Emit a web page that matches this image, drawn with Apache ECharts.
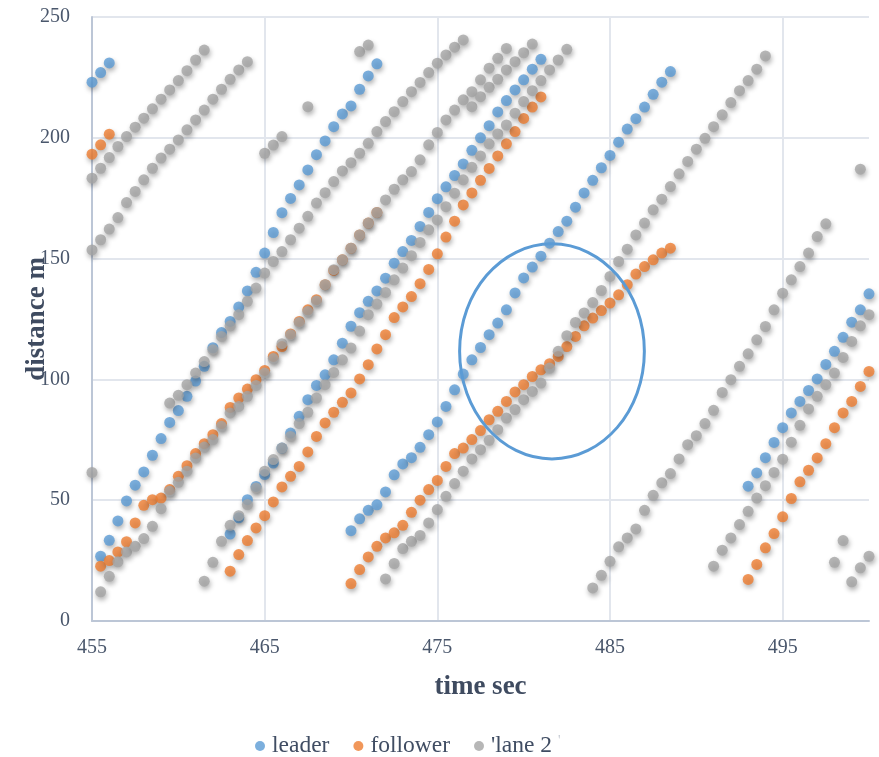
<!DOCTYPE html>
<html>
<head>
<meta charset="utf-8">
<title>Vehicle trajectories</title>
<script src="https://cdn.jsdelivr.net/npm/echarts@6/dist/echarts.min.js"></script>
<style>
  html, body { margin: 0; padding: 0; background: #fff; }
  #chart { width: 879px; height: 757px; }
</style>
</head>
<body>
<div id="chart"></div>
<script>
// ---- trajectories: [time s, distance m], one array per vehicle ----
const leaderCar1 = [[455,223],[455.5,227],[456,231]];
const leaderCar2 = [[455.5,26.8],[456,33.4],[456.5,41.4],[457,49.7],[457.5,56.2],[458,61.7],[458.5,68.6],[459,75.5],[459.5,82.2],[460,87.1],[460.5,93],[461,99.3],[461.5,105.4],[462,113.1],[462.5,119.4],[463,124],[463.5,130],[464,136.6],[464.5,144.3],[465,152.3],[465.5,160.8],[466,169],[466.5,174.9],[467,180.5],[467.5,186.7],[468,193],[468.5,198.7],[469,204.6],[469.5,209.9],[470,213.2],[470.5,220.1],[471,225.6],[471.5,230.6]];
const leaderCar3 = [[463,36],[463.5,42.7],[464,50.2],[464.5,55.7],[465,60.6],[465.5,65.4],[466,71.6],[466.5,77.8],[467,84.7],[467.5,91.6],[468,97.5],[468.5,101.9],[469,108.1],[469.5,115],[470,122],[470.5,127.6],[471,132.3],[471.5,136.6],[472,141.9],[472.5,148.1],[473,152.9],[473.5,157.5],[474,163.3],[474.5,169.1],[475,174.8],[475.5,179.7],[476,184.4],[476.5,189.2],[477,194.8],[477.5,200],[478,205],[478.5,210.7],[479,215.4],[479.5,219.8],[480,224],[480.5,228.4],[481,232.5]];
const leaderCar4 = [[470,37.4],[470.5,42.3],[471,45.8],[471.5,48.1],[472,53.4],[472.5,60.5],[473,65],[473.5,67.6],[474,71.9],[474.5,77.1],[475,82.4],[475.5,88.8],[476,95.7],[476.5,102.2],[477,108.1],[477.5,113.2],[478,118.5],[478.5,123.3],[479,128.8],[479.5,135.8],[480,142],[480.5,146.5],[481,151],[481.5,156.4],[482,161.2],[482.5,165.5],[483,171.3],[483.5,177.2],[484,182.4],[484.5,187.6],[485,192.7],[485.5,198.2],[486,203.6],[486.5,207.9],[487,212.7],[487.5,218],[488,223],[488.5,227.4]];
const leaderCar5 = [[493,55.8],[493.5,61.3],[494,67.6],[494.5,73.9],[495,80],[495.5,86.1],[496,90.9],[496.5,95.4],[497,100.2],[497.5,106.2],[498,111.6],[498.5,117.4],[499,123.7],[499.5,128.8],[500,135.4]];

const followerCar1 = [[455,193.2],[455.5,197.1],[456,201.5]];
const followerCar2 = [[455.5,22.7],[456,25],[456.5,28.6],[457,32.8],[457.5,40.6],[458,47.9],[458.5,50.2],[459,50.9],[459.5,54.4],[460,59.9],[460.5,64.3],[461,69.3],[461.5,73.4],[462,77.1],[462.5,81.7],[463,88.4],[463.5,92.3],[464,96],[464.5,99.9],[465,103.7],[465.5,109.5],[466,113.6],[466.5,118.8],[467,124],[467.5,128.8],[468,133],[468.5,139.2],[469,145.1],[469.5,149.5],[470,154.3],[470.5,159.8],[471,164.7],[471.5,169.1]];
const followerCar3 = [[463,20.6],[463.5,27.5],[464,33.3],[464.5,38.5],[465,43.6],[465.5,49.3],[466,55.5],[466.5,59.9],[467,64],[467.5,70],[468,76.4],[468.5,82],[469,86.4],[469.5,90.5],[470,94.4],[470.5,100.2],[471,106.1],[471.5,112.6],[472,118.5],[472.5,125.6],[473,130],[473.5,134.3],[474,139.6],[474.5,145.5],[475,152],[475.5,158.9],[476,165.5],[476.5,172.2],[477,177.2],[477.5,182.4],[478,187.3],[478.5,192.5],[479,197.5],[479.5,202.6],[480,208],[480.5,212.7],[481,216.9]];
const followerCar4 = [[470,15.5],[470.5,21.3],[471,26.5],[471.5,30.9],[472,34.4],[472.5,36.5],[473,39.6],[473.5,45],[474,50],[474.5,54.4],[475,58.2],[475.5,64],[476,69.3],[476.5,71.6],[477,75.1],[477.5,78.8],[478,83.3],[478.5,86.8],[479,90.9],[479.5,94.8],[480,97.8],[480.5,101.2],[481,104],[481.5,106.5],[482,109.5],[482.5,113.6],[483,117.8],[483.5,122.2],[484,125.4],[484.5,128.5],[485,131.6],[485.5,135],[486,139.2],[486.5,143.6],[487,146.7],[487.5,149.5],[488,152.3],[488.5,154.3]];
const followerCar5 = [[493,17.2],[493.5,23.4],[494,30.3],[494.5,36.2],[495,43.1],[495.5,50.7],[496,57.6],[496.5,62.4],[497,67.5],[497.5,73.4],[498,80],[498.5,86.1],[499,90.9],[499.5,97.1],[500,103.3]];

const lane2Car1 = [[455,183.3],[455.5,187.4],[456,191.8],[456.5,196.4],[457,200.5],[457.5,204.4],[458,208.1],[458.5,212],[459,216],[459.5,219.8],[460,223.7],[460.5,227.8],[461,232.2],[461.5,236.3]];
const lane2Car2 = [[455,153.6],[455.5,157.8],[456,162.2],[456.5,167],[457,173.2],[457.5,177.8],[458,182.6],[458.5,187.4],[459,191.6],[459.5,195.3],[460,199.1],[460.5,203.3],[461,207.4],[461.5,211.5],[462,216],[462.5,220.1],[463,224.2],[463.5,228.1],[464,231.5]];
const lane2Car3 = [[455,61.5]];
const lane2Car4 = [[455.5,12.1],[456,18.5],[456.5,24.5],[457,28.6],[457.5,30.9],[458,34.1],[458.5,39.2],[459,46.5],[459.5,53.7],[460,57.4],[460.5,62],[461,67.5],[461.5,72],[462,75.1],[462.5,80.6],[463,86.1],[463.5,88.8],[464,93],[464.5,97.5],[465,102.6],[465.5,108.6],[466,114.8],[466.5,118.5],[467,123.6],[467.5,128.1],[468,132.5],[468.5,139.2],[469,145.4],[469.5,149.5],[470,154.3],[470.5,159.8],[471,164.7],[471.5,169.1],[472,174.3],[472.5,178.7],[473,182.6],[473.5,186],[474,190.9],[474.5,197.1],[475,202.2],[475.5,207.4],[476,211.5],[476.5,215.7],[477,219.1],[477.5,224],[478,228.8],[478.5,232.9],[479,237]];
const lane2Car5 = [[459.5,90.2],[460,93.4],[460.5,97.8],[461,102.6],[461.5,107.4],[462,112.3],[462.5,117.8],[463,122.2],[463.5,126.8],[464,132.3],[464.5,137.8],[465,144],[465.5,148.8],[466,152.9],[466.5,157.8],[467,162.6],[467.5,167.5],[468,173],[468.5,177.3],[469,181.9],[469.5,186.3],[470,189.7],[470.5,193.6],[471,197.7],[471.5,202.6],[472,206.7],[472.5,210.8],[473,215],[473.5,219.1],[474,222.9],[474.5,227],[475,230.9],[475.5,234.3],[476,237.5],[476.5,240.5]];
const lane2Car6 = [[465,193.6],[465.5,197],[466,200.5]];
const lane2Car7 = [[467.5,212.9]];
const lane2Car8 = [[470.5,235.7],[471,238.4]];
const lane2Car9 = [[461.5,16.5],[462,24.3],[462.5,33],[463,39.6],[463.5,43.6],[464,48.2],[464.5,55.1],[465,62],[465.5,66.8],[466,71.6],[466.5,76.4],[467,81.7],[467.5,86.4],[468,92.3],[468.5,97.8],[469,102.9],[469.5,108.1],[470,113],[470.5,120],[471,126.8],[471.5,131.2],[472,136],[472.5,141.2],[473,146.1],[473.5,151.2],[474,156.7],[474.5,161.9],[475,166],[475.5,171.5],[476,177.1],[476.5,182.6],[477,187.8],[477.5,192.5],[478,197.5],[478.5,201.6],[479,205.3],[479.5,210.2],[480,215],[480.5,219.5],[481,223.7],[481.5,228.1],[482,232.2],[482.5,236.6]];
const lane2Car10 = [[477,212.9],[477.5,217],[478,220.9],[478.5,224.2],[479,228.1],[479.5,231.5],[480,235.2],[480.5,238.8]];
const lane2Car11 = [[472,17.4],[472.5,23.8],[473,30],[473.5,33],[474,35.4],[474.5,40.6],[475,46.1],[475.5,51.6],[476,56.9],[476.5,62],[477,67.1],[477.5,70.9],[478,74.8],[478.5,79.2],[479,84],[479.5,87.5],[480,91.6],[480.5,95],[481,98.5],[481.5,104.7],[482,111.6],[482.5,118.1],[483,123.6],[483.5,127.5],[484,131.8],[484.5,136.8],[485,142.6],[485.5,148.8],[486,153.9],[486.5,159.8],[487,164.7],[487.5,170.2],[488,174.6],[488.5,179.8],[489,185.1],[489.5,190.2],[490,195.3],[490.5,199.8],[491,204.6],[491.5,209.5],[492,214.6],[492.5,219.5],[493,223.7],[493.5,228.4],[494,233.9]];
const lane2Car12 = [[484,13.7],[484.5,18.9],[485,24.7],[485.5,30.7],[486,34.4],[486.5,38.1],[487,45.8],[487.5,52],[488,57.2],[488.5,61],[489,67.1],[489.5,73],[490,76.7],[490.5,81.7],[491,87.2],[491.5,94.6],[492,99.9],[492.5,105.4],[493,110.6],[493.5,116.4],[494,121.9],[494.5,128.8],[495,135.7],[495.5,141.2],[496,146.7],[496.5,152.3],[497,159.1],[497.5,164.4]];
const lane2Car13 = [[491,22.7],[491.5,29.3],[492,34.4],[492.5,39.9],[493,45.4],[493.5,50.9],[494,56],[494.5,61.5],[495,67],[495.5,74],[496,81],[496.5,87.8],[497,93],[497.5,97.8],[498,102.6],[498.5,109.1],[499,115.7],[499.5,122.2],[500,126.8]];
const lane2Car14 = [[498,24.3],[498.5,33.3]];
const lane2Car15 = [[499,16.2],[499.5,22],[500,26.8]];
const lane2Car16 = [[499.5,187]];

// ---- series names, axis ticks ----
const seriesNames = ['leader', 'follower', "'lane 2 '"];
const timeTicks = [455, 465, 475, 485, 495];
const distanceTicks = [0, 50, 100, 150, 200, 250];

// highlighted interaction zone (centre and half-axes in data units)
const zoneCenter = [481.64, 111.6];
const zoneRadius = [5.35, 44.5];

const leaderData = [].concat(leaderCar1, leaderCar2, leaderCar3, leaderCar4, leaderCar5);
const followerData = [].concat(followerCar1, followerCar2, followerCar3, followerCar4, followerCar5);
const lane2Data = [].concat(lane2Car1, lane2Car2, lane2Car3, lane2Car4, lane2Car5, lane2Car6,
  lane2Car7, lane2Car8, lane2Car9, lane2Car10, lane2Car11, lane2Car12, lane2Car13,
  lane2Car14, lane2Car15, lane2Car16);

const FONT = "'Liberation Serif', 'Times New Roman', serif";
const TEXT = '#4a576c';
const COLORS = ['#5b9bd5', '#ed7d31', '#a5a5a5'];

function dotSeries(name, data, color) {
  return {
    name: name,
    type: 'scatter',
    data: data,
    symbol: 'circle',
    symbolSize: 11,
    itemStyle: {
      color: color,
      shadowBlur: 5,
      shadowOffsetX: 1,
      shadowOffsetY: 3,
      shadowColor: 'rgba(0,0,0,0.38)'
    },
    emphasis: { disabled: true }
  };
}

const chart = echarts.init(document.getElementById('chart'), null, { renderer: 'canvas' });

chart.setOption({
  animation: false,
  backgroundColor: '#ffffff',
  grid: { left: 92, right: 10, top: 17, bottom: 136, containLabel: false },
  xAxis: {
    type: 'value',
    min: timeTicks[0],
    max: 500,
    interval: timeTicks[1] - timeTicks[0],
    name: 'time sec',
    nameLocation: 'middle',
    nameMoveOverlap: false,
    nameGap: 53,
    nameTextStyle: { fontFamily: FONT, fontWeight: 'bold', fontSize: 27, color: '#3f4b60' },
    axisLine: { show: true, lineStyle: { color: '#bcc6d6', width: 2 } },
    axisTick: { show: false },
    axisLabel: {
      fontFamily: FONT, fontSize: 20, color: TEXT, margin: 17,
      showMaxLabel: false,
      formatter: v => (timeTicks.indexOf(v) >= 0 ? String(v) : '')
    },
    splitLine: { show: true, showMinLine: false, showMaxLine: false, lineStyle: { color: '#e2e6ed', width: 2 } }
  },
  yAxis: {
    type: 'value',
    min: distanceTicks[0],
    max: distanceTicks[distanceTicks.length - 1],
    interval: distanceTicks[1] - distanceTicks[0],
    name: 'distance m',
    nameLocation: 'middle',
    nameMoveOverlap: false,
    nameGap: 41,
    nameTextStyle: { fontFamily: FONT, fontWeight: 'bold', fontSize: 27, color: '#3f4b60' },
    axisLine: { show: true, lineStyle: { color: '#bcc6d6', width: 2 } },
    axisTick: { show: false },
    axisLabel: { fontFamily: FONT, fontSize: 20, color: TEXT, margin: 22 },
    splitLine: { show: true, showMinLine: false, lineStyle: { color: '#e2e6ed', width: 2 } }
  },
  legend: {
    data: seriesNames,
    left: 255,
    top: 734,
    padding: 0,
    icon: 'circle',
    itemWidth: 14,
    itemHeight: 10,
    itemGap: 24,
    textStyle: {
      fontFamily: FONT, fontSize: 23.5, color: '#404d63',
      rich: {
        n: { fontFamily: FONT, fontSize: 23.5, color: '#404d63' },
        q: { fontFamily: FONT, fontSize: 14, color: '#c3c8d0', verticalAlign: 'top' }
      }
    },
    formatter: function (name) {
      if (name === seriesNames[2]) {
        return '{n|' + name.slice(0, -1) + '}{q|' + name.slice(-1) + '}';
      }
      return name;
    }
  },
  series: [
    dotSeries(seriesNames[0], leaderData, COLORS[0]),
    dotSeries(seriesNames[1], followerData, COLORS[1]),
    dotSeries(seriesNames[2], lane2Data, COLORS[2])
  ]
});

// outline around the leader/follower interaction zone
function drawZone() {
  const c = chart.convertToPixel({ gridIndex: 0 }, zoneCenter);
  const e = chart.convertToPixel({ gridIndex: 0 }, [zoneCenter[0] + zoneRadius[0], zoneCenter[1] + zoneRadius[1]]);
  chart.setOption({
    graphic: [{
      type: 'ellipse',
      silent: true,
      z: 100,
      shape: { cx: c[0], cy: c[1], rx: e[0] - c[0], ry: c[1] - e[1] },
      style: { fill: 'none', stroke: '#5b9bd5', lineWidth: 3 }
    }]
  });
}
drawZone();
</script>
</body>
</html>
